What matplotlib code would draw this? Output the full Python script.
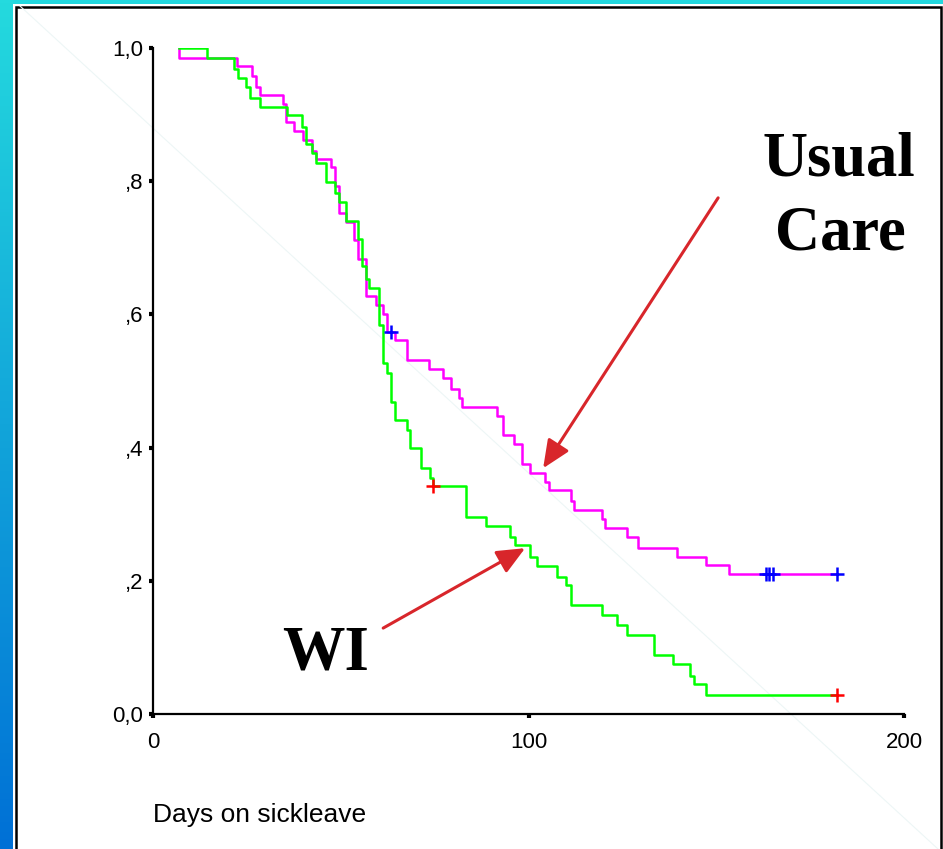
import numpy as np
import matplotlib
matplotlib.use("Agg")
import matplotlib.pyplot as plt
from matplotlib.patches import Rectangle
from matplotlib.lines import Line2D

# Usual Care (magenta) - step times (days) and survival after each step
uc_t = [7, 7, 22.5, 26.3, 27.4, 28.5, 34.5, 35.4, 37.5, 39.9, 42.3, 43.4, 47.4,
        48.5, 49.6, 51.4, 53.5, 54.7, 56.6, 59.4, 61.2, 62.4, 64.4, 67.6, 73.6,
        77.2, 79.4, 81.4, 82.4, 91.7, 93.1, 96.2, 98.2, 100.4, 104.5, 105.5,
        111.2, 112.1, 119.5, 120.4, 126.1, 129.2, 139.5, 147.3, 153.5, 182.2]
uc_s = [1.0, 0.985, 0.973, 0.958, 0.942, 0.929, 0.916, 0.889, 0.876, 0.862,
        0.846, 0.833, 0.821, 0.793, 0.753, 0.738, 0.711, 0.683, 0.628, 0.614,
        0.601, 0.574, 0.561, 0.532, 0.518, 0.505, 0.488, 0.475, 0.461, 0.448,
        0.419, 0.405, 0.375, 0.362, 0.349, 0.336, 0.320, 0.306, 0.293, 0.279,
        0.266, 0.250, 0.236, 0.223, 0.210, 0.210]
uc_cens = [63.3, 163.2, 164.1, 165.2, 182.2]

# WI (green)
wi_t = [7, 14.4, 21.6, 22.7, 24.8, 25.8, 28.5, 35.6, 39.8, 40.7, 42.4, 43.3,
        46.2, 48.5, 49.6, 51.5, 54.7, 55.6, 56.6, 57.6, 60.3, 61.2, 62.4, 63.3,
        64.4, 67.6, 68.4, 71.5, 73.8, 74.6, 83.4, 88.7, 95.2, 96.4, 100.4, 102.3,
        107.5, 110.1, 111.2, 119.5, 123.5, 126.1, 133.4, 138.4, 143.0, 144.2,
        147.3, 182.2]
wi_s = [1.0, 0.985, 0.969, 0.955, 0.942, 0.925, 0.912, 0.899, 0.882, 0.856,
        0.843, 0.827, 0.799, 0.783, 0.769, 0.740, 0.713, 0.672, 0.653, 0.640,
        0.584, 0.527, 0.512, 0.469, 0.441, 0.426, 0.399, 0.370, 0.355, 0.343,
        0.296, 0.283, 0.266, 0.254, 0.236, 0.222, 0.206, 0.193, 0.164, 0.148,
        0.134, 0.118, 0.088, 0.075, 0.057, 0.045, 0.028, 0.028]
wi_cens = [74.6, 182.2]

xticks = [0, 100, 200]
yticks = [0.0, 0.2, 0.4, 0.6, 0.8, 1.0]
ylabels = ["0,0", ",2", ",4", ",6", ",8", "1,0"]


def step_at(t, s, x):
    i = np.searchsorted(t, x, side="right") - 1
    return np.asarray(s)[i]


narrow = ["Liberation Sans Narrow", "Liberation Sans", "DejaVu Sans"]
serif = ["Liberation Serif", "DejaVu Serif"]

fig = plt.figure(figsize=(9.43, 8.49), dpi=100)
fig.patch.set_facecolor("#22d8df")

# left gradient band
bg = fig.add_axes([0, 0, 13 / 943, 1])
grad = np.linspace(0, 1, 256).reshape(-1, 1)
cmap = matplotlib.colors.LinearSegmentedColormap.from_list("band", ["#24dade", "#0070d6"])
bg.imshow(grad, aspect="auto", cmap=cmap, extent=[0, 1, 0, 1], origin="upper")
bg.set_axis_off()

# white panel with black border (kept behind the axes)
fig.patches.append(Rectangle((13 / 943, -0.01), 930 / 943, 1.01 - 4 / 849,
                             transform=fig.transFigure, facecolor="white",
                             edgecolor="none", zorder=-3))
fig.patches.append(Rectangle((16 / 943, -0.01), 925 / 943, 1.01 - 7 / 849,
                             transform=fig.transFigure, facecolor="white",
                             edgecolor="black", linewidth=1.8, zorder=-2))
# faint diagonal artifact
fig.lines.append(Line2D([20 / 943, 938 / 943], [1 - 6 / 849, 0], transform=fig.transFigure,
                        color="#edf6f6", linewidth=0.8, zorder=-1))

ax = fig.add_axes([153 / 943, 1 - 714 / 849, 751 / 943, 666 / 849])
ax.patch.set_alpha(0)
ax.plot(uc_t, uc_s, drawstyle="steps-post", color="#ff00ff", lw=1.8, zorder=3)
ax.plot(wi_t, wi_s, drawstyle="steps-post", color="#00ff00", lw=1.8, zorder=4)
ax.plot(uc_cens, step_at(uc_t, uc_s, uc_cens), "+", color="#0000ff", ms=10, mew=1.8, zorder=5)
ax.plot(wi_cens, step_at(wi_t, wi_s, wi_cens), "+", color="#ff0000", ms=10, mew=1.8, zorder=5)

ax.set_xlim(0, 200)
ax.set_ylim(0, 1)
for side in ["top", "right"]:
    ax.spines[side].set_visible(False)
for side in ["left", "bottom"]:
    ax.spines[side].set_linewidth(1.6)
    ax.spines[side].set_color("black")
ax.set_xticks(xticks)
ax.set_xticklabels([str(v) for v in xticks], family=narrow, fontsize=16)
ax.set_yticks(yticks)
ax.set_yticklabels(ylabels, family=narrow, fontsize=16)
ax.tick_params(axis="both", direction="out", length=3, width=3, color="black")
ax.tick_params(axis="x", pad=10)
ax.tick_params(axis="y", pad=4)

fig.text(153 / 943, 1 - 815 / 849, "Days on sickleave", family=narrow, fontsize=19,
         ha="left", va="center")

# annotations
fig.text(839 / 943, 1 - 176 / 849, "Usual", family=serif, fontweight="bold",
         fontsize=45, ha="center", va="baseline")
fig.text(840 / 943, 1 - 250 / 849, "Care", family=serif, fontweight="bold",
         fontsize=45, ha="center", va="baseline")
fig.text(326 / 943, 1 - 670 / 849, "WI", family=serif, fontweight="bold",
         fontsize=45, ha="center", va="baseline")

arrow = dict(arrowstyle="-|>,head_length=1.7,head_width=0.75", color="#d8262b", lw=2.2,
             shrinkA=0, shrinkB=0)
ax.annotate("", xy=(103.9, 0.369), xytext=(150.5, 0.775), arrowprops=arrow,
            annotation_clip=False)
ax.annotate("", xy=(99.1, 0.249), xytext=(61.3, 0.129), arrowprops=arrow,
            annotation_clip=False)

fig.savefig("out.png", dpi=100)
